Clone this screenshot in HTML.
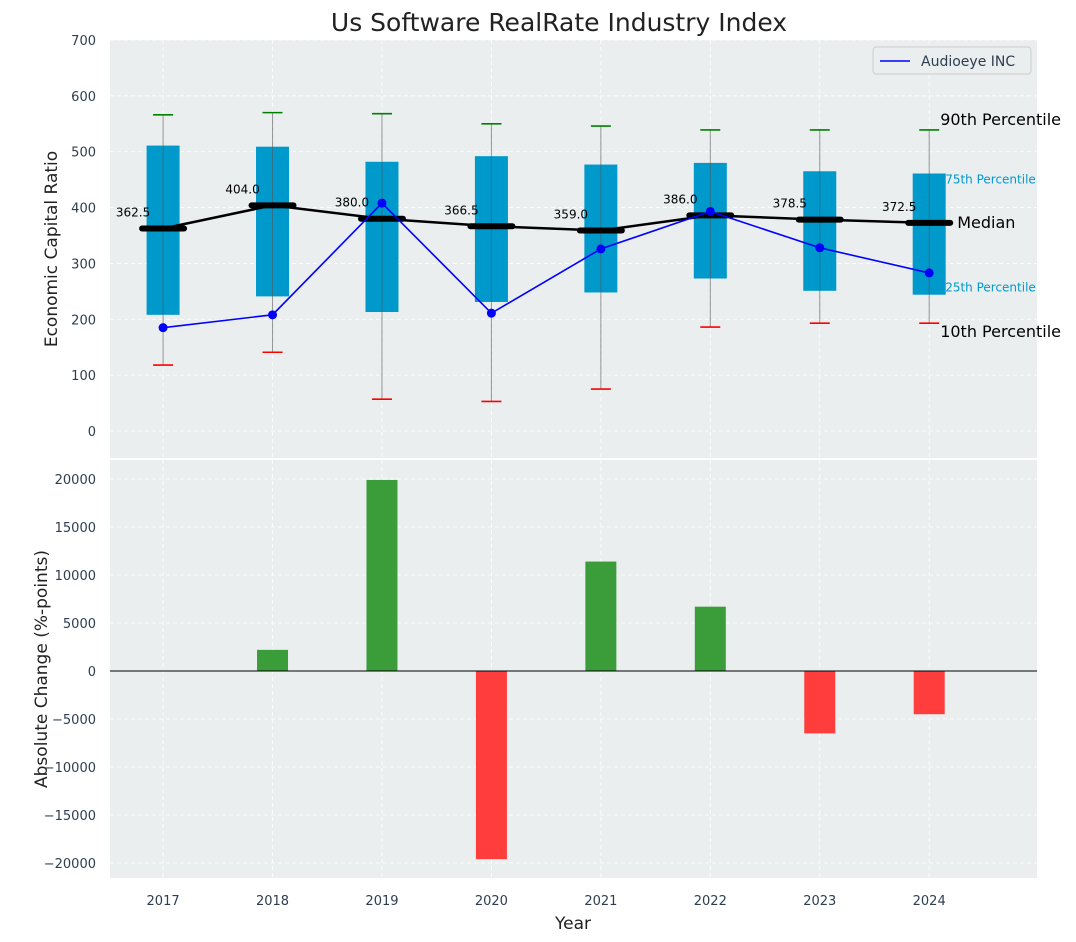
<!DOCTYPE html>
<html><head><meta charset="utf-8"><style>
body{margin:0;background:#fff;}
svg{display:block;font-family:"DejaVu Sans","Liberation Sans",sans-serif;}
</style></head><body>
<svg id="chart" width="1076" height="942" xmlns="http://www.w3.org/2000/svg"></svg>
<script>
const years=[2017,2018,2019,2020,2021,2022,2023,2024];
const q1=[208,241,213,231,248,273,251,244];
const q3=[511,509,482,492,477,480,465,461];
const medians=[362.5,404.0,380.0,366.5,359.0,386.0,378.5,372.5];
const p10=[118,141,57,53,75,186,193,193];
const p90=[566,570,568,550,546,539,539,539];
const audioeye=[185,208,408,211,326,393,328,283];
const changes=[0,2200,19900,-19600,11400,6700,-6500,-4500];
const topTicks=[0,100,200,300,400,500,600,700];
const botTicks=[-20000,-15000,-10000,-5000,0,5000,10000,15000,20000];

const NS="http://www.w3.org/2000/svg";
const svg=document.getElementById('chart');
function el(t,a,p){const e=document.createElementNS(NS,t);for(const k in a)e.setAttribute(k,a[k]);(p||svg).appendChild(e);return e;}
const L=110,R=1037;
const x=v=>L+(v-2016.515)*(R-L)/(2024.985-2016.515);
const yT=v=>431-v*(391/700);
const yB=v=>671-v*(192/20000);
const T1=40,B1=458,T2=460,B2=878;

let g=el('rect',{x:L,y:T1,width:R-L,height:B1-T1,fill:'#eaeeef'});

g=el('rect',{x:L,y:T2,width:R-L,height:B2-T2,fill:'#eaeeef'});


years.forEach(yr=>{
  el('line',{x1:x(yr),x2:x(yr),y1:T1,y2:B1,stroke:'#fff','stroke-dasharray':'4,3','stroke-width':0.8});
  el('line',{x1:x(yr),x2:x(yr),y1:T2,y2:B2,stroke:'#fff','stroke-dasharray':'4,3','stroke-width':0.8});
  const t=el('text',{x:x(yr),y:905,'text-anchor':'middle','font-size':13,fill:'#2e3d4f'});t.textContent=yr;
  
});
topTicks.forEach(v=>{
  el('line',{x1:L,x2:R,y1:yT(v),y2:yT(v),stroke:'#fff','stroke-dasharray':'4,3','stroke-width':0.8});
  const t=el('text',{x:96,y:yT(v)+5,'text-anchor':'end','font-size':13,fill:'#2e3d4f'});t.textContent=v;
  
});
botTicks.forEach(v=>{
  el('line',{x1:L,x2:R,y1:yB(v),y2:yB(v),stroke:'#fff','stroke-dasharray':'4,3','stroke-width':0.8});
  const t=el('text',{x:96,y:yB(v)+5,'text-anchor':'end','font-size':13,fill:'#2e3d4f'});t.textContent=v<0?'\u2212'+(-v):v;
  
});

years.forEach((yr,i)=>{
  const cx=x(yr),w=33;
  const b=el('rect',{x:cx-w/2,y:yT(q3[i]),width:w,height:yT(q1[i])-yT(q3[i]),fill:'#0099cc'});
  
  el('line',{x1:cx,x2:cx,y1:yT(p90[i]),y2:yT(p10[i]),stroke:'#555','stroke-opacity':0.6,'stroke-width':1});
  const c1=el('line',{x1:cx-10,x2:cx+10,y1:yT(p90[i]),y2:yT(p90[i]),stroke:'green','stroke-width':1.6});
  
  const c2=el('line',{x1:cx-10,x2:cx+10,y1:yT(p10[i]),y2:yT(p10[i]),stroke:'red','stroke-width':1.6});
  
});
const mp=el('polyline',{points:years.map((yr,i)=>x(yr)+','+yT(medians[i])).join(' '),fill:'none',stroke:'#000','stroke-width':2.5});

years.forEach((yr,i)=>{
  const cx=x(yr);
  const m=el('line',{x1:cx-21,x2:cx+21,y1:yT(medians[i]),y2:yT(medians[i]),stroke:'#000','stroke-width':6,'stroke-linecap':'round'});
  
  const t=el('text',{x:cx-30,y:yT(medians[i])-12,'text-anchor':'middle','font-size':12,fill:'#000'});t.textContent=medians[i].toFixed(1);
  
});
const ae=el('polyline',{points:years.map((yr,i)=>x(yr)+','+yT(audioeye[i])).join(' '),fill:'none',stroke:'blue','stroke-width':1.6});

years.forEach((yr,i)=>{
  const c=el('circle',{cx:x(yr),cy:yT(audioeye[i]),r:4.5,fill:'blue'});
  
});
const lx=x(2024);
[['90th Percentile',yT(p90[7])-5,lx+11,16,'#000'],['75th Percentile',yT(q3[7])+10,lx+16,12,'#0099cc'],['Median',yT(medians[7])+5,lx+28,16,'#000'],['25th Percentile',yT(q1[7])-3,lx+16,12,'#0099cc'],['10th Percentile',yT(p10[7])+14,lx+11,16,'#000']].forEach(a=>{
  const t=el('text',{x:a[2],y:a[1],'font-size':a[3],fill:a[4]});t.textContent=a[0];
  
});
g=el('g',{});
el('rect',{x:873,y:47,width:158,height:27,rx:3,fill:'#eaeeef',stroke:'#ccc'},g);
el('line',{x1:880,x2:910,y1:61,y2:61,stroke:'blue','stroke-width':1.6},g);
let t=el('text',{x:921,y:66,'font-size':14,fill:'#2e3d4f'},g);t.textContent='Audioeye INC';

years.forEach((yr,i)=>{
  const v=changes[i];if(v===0)return;
  const y0=yB(Math.max(v,0)),h=Math.abs(yB(v)-yB(0));
  const b=el('rect',{x:x(yr)-15.5,y:y0,width:31,height:h,fill:v>0?'#3a9d3a':'#ff3d3d'});
  
});
el('line',{x1:L,x2:R,y1:yB(0),y2:yB(0),stroke:'#000','stroke-width':1});

t=el('text',{x:559,y:31,'text-anchor':'middle','font-size':25,fill:'#222'});t.textContent='Us Software RealRate Industry Index';

t=el('text',{x:0,y:0,'text-anchor':'middle','font-size':17,fill:'#222',transform:'translate(57,249) rotate(-90)'});t.textContent='Economic Capital Ratio';

t=el('text',{x:0,y:0,'text-anchor':'middle','font-size':17,fill:'#222',transform:'translate(53,669) rotate(-90)'});t.textContent='Absolute Change (%-points)';
t.setAttribute('transform','translate(53,669) rotate(-90)');
t.setAttribute('x','0');

t.setAttribute('transform','translate(47,669) rotate(-90)');
t=el('text',{x:573,y:929,'text-anchor':'middle','font-size':17,fill:'#222'});t.textContent='Year';

</script>
</body></html>
